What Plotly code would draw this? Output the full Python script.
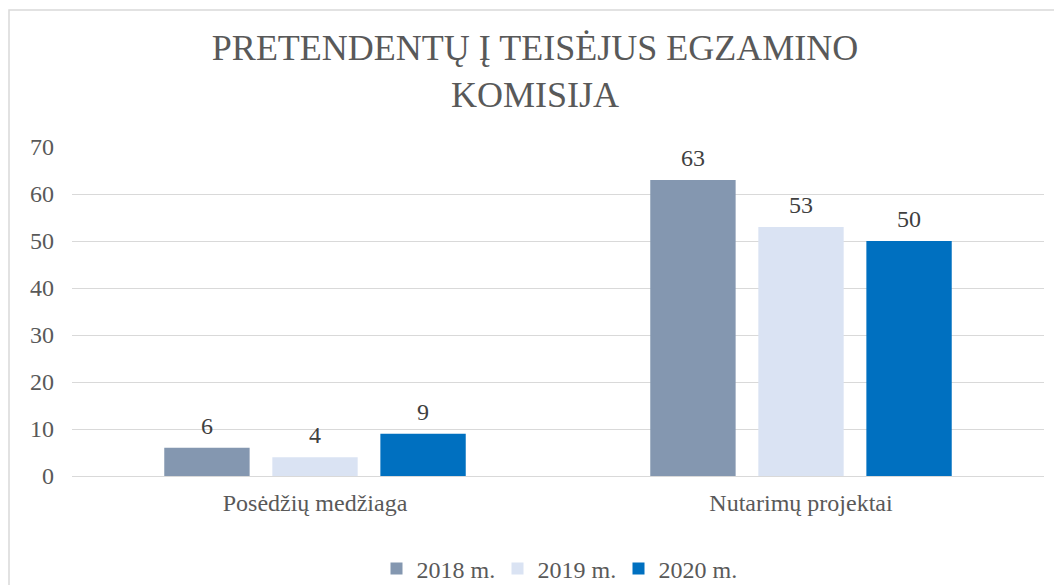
import plotly.graph_objects as go

categories = ["Posėdžių medžiaga", "Nutarimų projektai"]
series_names = ["2018 m.", "2019 m.", "2020 m."]
values_2018 = [6, 63]
values_2019 = [4, 53]
values_2020 = [9, 50]
colors = ["#8497B0", "#DAE3F3", "#0070C0"]

font_fam = "Liberation Serif, Times New Roman, serif"
# page has an 8px body margin, so the figure is laid out 8px smaller
OFF = 8
W, H = 1062 - OFF, 585 - OFF
L = 72 - OFF
R = W - (1044 - OFF)
T = 147 - OFF
B = H - (476 - OFF)
pw, ph = W - L - R, H - T - B

def px2x(p):
    return (p - OFF - L) / pw

def py2y(p):
    return (H - B - (p - OFF)) / ph

fig = go.Figure()
annots = []
slot = 108
for i, (name, vals, col) in enumerate(zip(series_names, [values_2018, values_2019, values_2020], colors)):
    fig.add_trace(go.Bar(
        x=categories, y=vals, name=name, marker=dict(color=col, line=dict(width=0)),
    ))
    for c, v in zip(categories, vals):
        annots.append(dict(x=c, y=v, xref="x", yref="y", text=str(v), showarrow=False,
                           xanchor="center", yanchor="bottom", xshift=(i - 1) * slot, yshift=7,
                           font=dict(family=font_fam, size=24, color="#404040")))

fig.update_layout(
    width=W, height=H,
    margin=dict(l=L, r=R, t=T, b=B, autoexpand=False),
    paper_bgcolor="white", plot_bgcolor="white",
    barmode="group", bargap=0.333, bargroupgap=0.21,
    title=dict(text="PRETENDENTŲ Į TEISĖJUS EGZAMINO<br>KOMISIJA",
               x=0.5, xanchor="center", y=1 - 52 / H, yanchor="top",
               font=dict(family=font_fam, size=36, color="#595959")),
    font=dict(family=font_fam, color="#595959"),
    xaxis=dict(tickfont=dict(family=font_fam, size=24, color="#595959"),
               showline=True, linecolor="#d9d9d9", linewidth=1, ticks="", showgrid=False,
               automargin=False, ticklabelstandoff=5),
    yaxis=dict(range=[0, 70], dtick=10, tickfont=dict(family=font_fam, size=24, color="#595959"),
               showgrid=True, gridcolor="#d9d9d9", gridwidth=1, zeroline=False, ticks="",
               ticklabelstandoff=17, automargin=False),
    legend=dict(orientation="h", x=0.5, xanchor="center", y=py2y(569), yanchor="middle",
                font=dict(family=font_fam, size=24, color="#595959"),
                itemwidth=30, traceorder="normal", entrywidth=76, entrywidthmode="pixels"),
    annotations=annots,
    shapes=[dict(type="rect", xref="paper", yref="paper",
                 x0=px2x(9), x1=px2x(1057), y0=py2y(600), y1=py2y(10),
                 line=dict(color="#d9d9d9", width=1.5), fillcolor="rgba(0,0,0,0)", layer="below")],
)

fig.write_html("out.html")
